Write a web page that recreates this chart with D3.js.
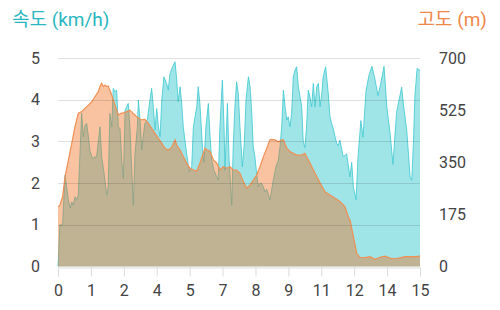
<!DOCTYPE html>
<html>
<head>
<meta charset="utf-8">
<script src="https://cdn.jsdelivr.net/npm/d3@7"></script>
<style>
  body { margin: 0; background: #fff; }
  svg { display: block; font-family: Roboto, "Noto Sans CJK KR", sans-serif; }
</style>
</head>
<body>
<svg id="chart" width="500" height="310"></svg>
<script>
// x tick labels (evenly spaced, as shown on the chart)
var xLabels = ["0","1","2","4","5","7","8","9","11","12","14","15"];
var speedTicks = [0, 1, 2, 3, 4, 5];
var altTicks = [0, 175, 350, 525, 700];

// speed (km/h) : [distance, value]
var speed = [
  [0,0],[0.08,1.0],[0.19,1.0],[0.29,2.19],[0.43,1.6],[0.5,1.4],[0.57,1.55],[0.63,1.47],
  [0.7,1.67],[0.77,1.6],[0.84,1.71],[0.98,3.67],[1.05,3.11],[1.12,3.39],[1.19,3.43],
  [1.26,3.11],[1.33,2.75],[1.44,2.59],[1.53,2.63],[1.6,2.63],[1.74,3.35],[1.81,2.63],
  [1.91,2.23],[2.02,1.71],[2.08,1.91],[2.15,3.67],[2.23,3.35],[2.29,4.27],[2.36,4.19],
  [2.43,4.23],[2.5,3.35],[2.57,3.31],[2.64,2.55],[2.71,2.11],[2.78,3.75],[2.85,3.83],
  [2.91,3.91],[2.98,3.35],[3.05,2.39],[3.12,1.47],[3.19,2.71],[3.29,3.35],[3.33,3.99],
  [3.4,3.51],[3.47,2.79],[3.53,3.11],[3.6,3.43],[3.7,3.51],[3.77,3.83],[3.88,4.27],
  [3.95,3.83],[4.02,3.27],[4.09,3.79],[4.16,3.35],[4.23,3.11],[4.3,3.99],[4.39,4.55],
  [4.5,4.39],[4.57,4.23],[4.64,4.63],[4.78,4.83],[4.85,4.91],[4.92,4.47],[4.98,3.95],
  [5.06,4.31],[5.13,3.87],[5.19,3.35],[5.33,2.71],[5.44,2.27],[5.54,2.39],[5.61,3.35],
  [5.75,3.83],[5.81,4.31],[5.88,3.91],[6.0,2.71],[6.05,2.5],[6.13,3.35],[6.23,3.91],
  [6.3,3.11],[6.37,2.55],[6.46,2.31],[6.58,2.15],[6.64,2.07],[6.71,3.35],[6.81,4.47],
  [6.88,3.35],[6.92,2.31],[7.02,3.91],[7.09,2.55],[7.2,1.47],[7.26,2.87],[7.33,3.83],
  [7.4,4.43],[7.47,4.15],[7.54,3.35],[7.64,2.39],[7.72,2.95],[7.79,3.99],[7.89,4.55],
  [7.96,4.31],[8.03,3.67],[8.09,2.87],[8.16,2.63],[8.23,2.23],[8.3,1.91],[8.37,1.99],
  [8.44,1.99],[8.51,1.91],[8.58,1.79],[8.65,1.85],[8.71,1.75],[8.78,1.59],[8.85,1.83],
  [8.92,2.07],[9.03,2.39],[9.13,2.55],[9.2,2.87],[9.27,3.35],[9.34,4.23],[9.41,3.83],
  [9.48,3.51],[9.54,3.59],[9.61,3.35],[9.68,3.67],[9.75,4.55],[9.82,4.71],[9.89,4.79],
  [9.96,4.31],[10.03,4.07],[10.1,3.83],[10.16,3.0],[10.23,2.85],[10.3,3.35],[10.37,4.23],
  [10.44,4.07],[10.51,3.83],[10.58,4.39],[10.65,3.83],[10.72,4.31],[10.79,4.39],
  [10.86,3.83],[10.93,4.15],[10.99,4.55],[11.09,4.79],[11.2,4.15],[11.27,3.59],
  [11.34,3.43],[11.41,3.3],[11.48,3.11],[11.55,2.95],[11.61,2.9],[11.68,3.03],
  [11.82,2.63],[11.96,2.7],[12.1,2.15],[12.17,2.5],[12.24,1.91],[12.35,1.6],[12.43,2.6],
  [12.55,3.5],[12.64,3.1],[12.76,4.2],[12.89,4.6],[13.01,4.8],[13.13,4.5],[13.26,4.1],
  [13.38,4.4],[13.51,4.8],[13.63,3.8],[13.76,3.2],[13.88,2.45],[14.03,3.7],[14.17,4.1],
  [14.24,4.3],[14.31,3.9],[14.45,3.27],[14.59,2.15],[14.66,2.07],[14.73,3.0],[14.79,4.1],
  [14.88,4.75],[15,4.7]
];

// altitude (m) : [distance, value]
var altitude = [
  [0,200],[0.08,206],[0.19,234],[0.29,301],[0.43,357],[0.57,413],[0.7,469],[0.84,514],
  [0.98,520],[1.12,531],[1.26,542],[1.4,553],[1.53,570],[1.67,587],[1.74,604],[1.81,615],
  [1.88,604],[1.95,609],[2.02,604],[2.08,606],[2.15,592],[2.23,575],[2.29,559],[2.36,542],
  [2.43,525],[2.5,509],[2.6,514],[2.71,516],[2.85,520],[2.98,525],[3.12,514],[3.26,503],
  [3.37,497],[3.47,492],[3.6,494],[3.74,481],[3.88,464],[4.02,447],[4.16,430],[4.3,414],
  [4.43,397],[4.57,391],[4.71,400],[4.85,425],[4.92,408],[5.06,391],[5.19,369],[5.33,347],
  [5.47,330],[5.61,324],[5.75,320],[5.88,347],[6.02,380],[6.09,397],[6.16,393],[6.3,386],
  [6.44,358],[6.58,347],[6.71,324],[6.85,335],[6.99,330],[7.13,335],[7.26,324],[7.4,324],
  [7.54,313],[7.68,285],[7.82,263],[7.96,274],[8.09,290],[8.23,307],[8.37,335],[8.51,369],
  [8.65,397],[8.78,425],[8.85,427],[8.99,425],[9.13,419],[9.27,425],[9.34,425],[9.48,397],
  [9.61,386],[9.75,380],[9.89,374],[10.1,374],[10.23,380],[10.44,347],[10.65,313],
  [10.86,280],[11.06,251],[11.27,240],[11.48,229],[11.68,218],[11.89,201],[12.03,167],
  [12.1,156],[12.24,100],[12.38,44],[12.51,31],[12.72,30],[12.93,33],[13.13,24],[13.34,31],
  [13.55,35],[13.76,28],[13.96,26],[14.17,29],[14.38,33],[14.59,33],[14.79,33],[15,35]
];

var svg = d3.select("#chart");
var plotLeft = 58, plotRight = 420, plotTop = 58, plotBottom = 266.5;

var x = d3.scaleLinear().domain([0, 15]).range([plotLeft, plotRight]);
var ySpeed = d3.scaleLinear().domain([0, 5]).range([plotBottom, plotTop]);
var yAlt = d3.scaleLinear().domain([0, 700]).range([plotBottom, plotTop]);

// titles
svg.append("text").attr("x", 12).attr("y", 26)
  .attr("fill", "#2ab7c1").attr("font-size", 19).text("속도 (km/h)");
svg.append("text").attr("x", 487).attr("y", 26).attr("text-anchor", "end")
  .attr("fill", "#f0884a").attr("font-size", 19).text("고도 (m)");

// speed area + line
svg.append("path").datum(speed)
  .attr("fill", "#0fbec5").attr("fill-opacity", 0.4)
  .attr("d", d3.area().x(function(d){ return x(d[0]); })
    .y0(plotBottom).y1(function(d){ return ySpeed(d[1]); }));
svg.append("path").datum(speed)
  .attr("fill", "none").attr("stroke", "#3cc8d0").attr("stroke-opacity", 0.8).attr("stroke-width", 1)
  .attr("d", d3.line().x(function(d){ return x(d[0]); }).y(function(d){ return ySpeed(d[1]); }));

// altitude area + line
svg.append("path").datum(altitude)
  .attr("fill", "#f06914").attr("fill-opacity", 0.4)
  .attr("d", d3.area().x(function(d){ return x(d[0]); })
    .y0(plotBottom).y1(function(d){ return yAlt(d[1]); }));
svg.append("path").datum(altitude)
  .attr("fill", "none").attr("stroke", "#ef9055").attr("stroke-width", 1.2)
  .attr("d", d3.line().x(function(d){ return x(d[0]); }).y(function(d){ return yAlt(d[1]); }));

// grid (drawn over the areas, faint)
svg.append("g").selectAll("line").data(speedTicks.slice(1)).enter().append("line")
  .attr("x1", plotLeft).attr("x2", plotRight)
  .attr("y1", function(d){ return Math.round(ySpeed(d)) + 0.5; })
  .attr("y2", function(d){ return Math.round(ySpeed(d)) + 0.5; })
  .attr("stroke", "#000").attr("stroke-opacity", 0.12).attr("stroke-width", 1);

// x axis
var xt = d3.range(xLabels.length).map(function(i){ return 15 * i / (xLabels.length - 1); });
var xAxis = svg.append("g").attr("transform", "translate(0," + (plotBottom + 1) + ")")
  .call(d3.axisBottom(x).tickValues(xt).tickSize(9).tickPadding(8)
    .tickFormat(function(d, i){ return xLabels[i]; }));
xAxis.select(".domain").attr("stroke", "#dcdcdc");
xAxis.selectAll(".tick line").attr("stroke", "#dcdcdc");
xAxis.selectAll("text").attr("fill", "#444").attr("font-size", 16).attr("font-family", "Roboto");

// left axis
var yl = svg.append("g").attr("transform", "translate(" + plotLeft + ",0)")
  .call(d3.axisLeft(ySpeed).tickValues(speedTicks).tickSize(0).tickPadding(18)
    .tickFormat(d3.format("d")));
yl.select(".domain").remove();
yl.selectAll("text").attr("fill", "#444").attr("font-size", 16).attr("font-family", "Roboto");

// right axis
var yr = svg.append("g").attr("transform", "translate(" + plotRight + ",0)")
  .call(d3.axisRight(yAlt).tickValues(altTicks).tickSize(0).tickPadding(19)
    .tickFormat(d3.format("d")));
yr.select(".domain").remove();
yr.selectAll("text").attr("fill", "#444").attr("font-size", 16).attr("font-family", "Roboto");
</script>
</body>
</html>
